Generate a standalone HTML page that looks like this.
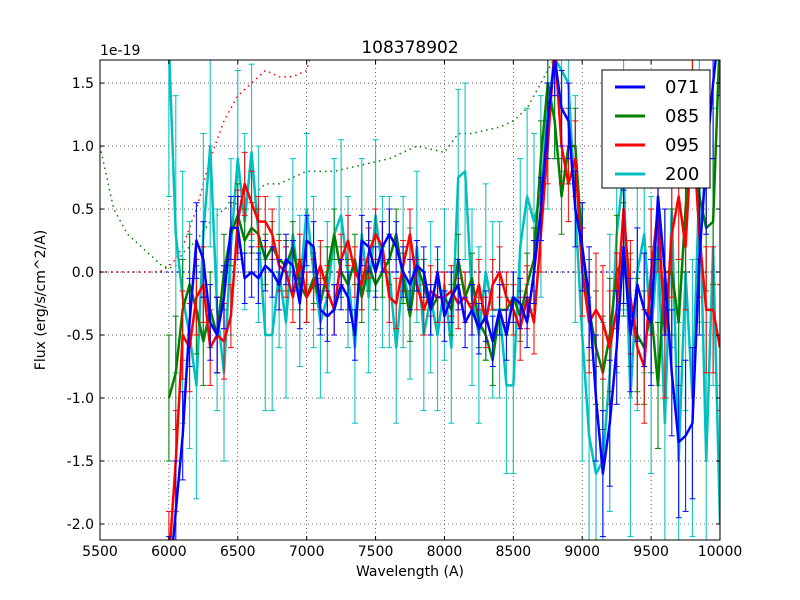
<!DOCTYPE html>
<html><head><meta charset="utf-8"><style>
html,body{margin:0;padding:0;background:#fff;width:800px;height:600px;overflow:hidden;}
svg{display:block;font-family:"DejaVu Sans","Liberation Sans",sans-serif;}
</style></head><body>
<svg id="chart" width="800" height="600" xmlns="http://www.w3.org/2000/svg">
<rect x="0" y="0" width="800" height="600" fill="#fff"/>
<defs><clipPath id="clip"><rect x="100" y="60" width="620" height="480"/></clipPath></defs>
<g id="grid"></g>
<g id="plot" clip-path="url(#clip)"></g>
<rect x="100" y="60" width="620" height="480" fill="none" stroke="#000" stroke-width="1"/>
<g id="ticks"></g>
<text x="410" y="53" font-size="17" text-anchor="middle">108378902</text>
<text x="100" y="55" font-size="14">1e-19</text>
<text x="410" y="576" font-size="14" text-anchor="middle">Wavelength (A)</text>
<text x="45" y="300" font-size="14" text-anchor="middle" transform="rotate(-90 45 300)">Flux (erg/s/cm^2/A)</text>
<g>
<rect x="602" y="70" width="108" height="118" fill="#fff" stroke="#000" stroke-width="1"/>
<g><line x1="615" y1="87" x2="645" y2="87" stroke="#0000ff" stroke-width="3"/><text x="665" y="93" font-size="18">071</text></g>
<g><line x1="615" y1="116" x2="645" y2="116" stroke="#008000" stroke-width="3"/><text x="665" y="122" font-size="18">085</text></g>
<g><line x1="615" y1="145" x2="645" y2="145" stroke="#ff0000" stroke-width="3"/><text x="665" y="151" font-size="18">095</text></g>
<g><line x1="615" y1="174" x2="645" y2="174" stroke="#00bfbf" stroke-width="3"/><text x="665" y="180" font-size="18">200</text></g>
</g>
</svg>
<script>
const xTicks=[5500,6000,6500,7000,7500,8000,8500,9000,9500,10000];
const yTicks=[-2.0,-1.5,-1.0,-0.5,0.0,0.5,1.0,1.5];
const wave=[6000,6050,6100,6150,6200,6250,6300,6350,6400,6450,6500,6550,6600,6650,6700,6750,6800,6850,6900,6950,7000,7050,7100,7150,7200,7250,7300,7350,7400,7450,7500,7550,7600,7650,7700,7750,7800,7850,7900,7950,8000,8050,8100,8150,8200,8250,8300,8350,8400,8450,8500,8550,8600,8650,8700,8750,8800,8850,8900,8950,9000,9050,9100,9150,9200,9250,9300,9350,9400,9450,9500,9550,9600,9650,9700,9750,9800,9850,9900,9950,10000];
const s071=[-2.5,-1.9,-1.3,-0.4,0.25,0.1,-0.4,-0.5,-0.2,0.35,0.35,-0.05,0.0,-0.05,0.05,0.0,-0.1,0.1,0.05,-0.25,0.25,0.2,-0.3,-0.35,-0.3,-0.1,-0.2,-0.5,0.25,0.2,0.0,0.2,0.3,0.2,0.0,-0.1,0.05,0.0,-0.3,0.0,-0.35,-0.2,-0.1,-0.4,-0.3,-0.45,-0.35,-0.55,-0.3,-0.5,-0.2,-0.25,-0.4,0.0,0.5,1.2,1.7,1.3,1.2,0.5,0.2,-0.2,-1.0,-1.6,-1.2,-0.6,0.2,-0.5,-0.1,-0.3,-0.4,0.6,0.0,-0.8,-1.35,-1.3,-1.2,0.1,0.9,1.5,2.0];
const s085=[-1.0,-0.8,-0.3,-0.1,-0.3,-0.55,-0.3,-0.5,0.0,0.3,0.45,0.25,0.35,0.3,0.1,0.2,0.1,0.05,0.2,-0.1,-0.2,-0.05,-0.25,0.0,0.3,0.0,-0.1,0.1,-0.2,0.05,-0.1,0.0,0.1,0.3,-0.05,-0.35,0.05,-0.1,-0.3,-0.2,-0.2,-0.3,0.1,-0.2,-0.05,-0.4,-0.5,-0.7,-0.3,-0.3,-0.2,-0.35,-0.1,0.1,0.9,1.5,1.2,0.6,1.0,1.0,0.2,-0.3,-0.6,-0.8,-0.5,0.0,0.1,-0.3,-0.5,-0.6,-0.3,-0.9,0.0,0.0,-0.4,0.5,1.2,0.6,0.35,0.4,1.9];
const s095=[-2.3,-1.5,-0.5,-0.6,-0.2,-0.1,-0.6,-0.5,-0.55,-0.35,0.4,0.7,0.55,0.4,0.4,0.3,0.05,0.0,-0.2,0.1,-0.2,-0.1,0.05,-0.15,-0.3,0.1,0.25,0.0,-0.1,0.15,0.3,0.2,-0.2,-0.25,0.05,0.3,-0.1,-0.3,-0.15,-0.2,-0.2,-0.15,-0.25,-0.2,-0.3,-0.1,-0.4,-0.1,0.0,-0.2,-0.3,-0.45,-0.2,-0.4,0.3,1.0,1.8,1.0,0.7,0.9,0.0,-0.4,-0.3,-0.4,-0.6,-0.3,0.5,-0.2,-0.6,-0.75,0.0,0.5,-0.5,0.3,0.6,0.2,1.2,0.3,-0.3,-0.3,-0.6];
const s200=[1.8,0.3,-0.2,-0.5,-0.9,0.3,1.0,-0.3,-0.8,0.2,0.9,0.4,0.95,0.3,-0.5,-0.5,0.0,-0.4,0.3,-0.15,0.5,0.0,-0.4,-0.2,0.3,0.45,0.0,-0.6,0.3,-0.2,0.45,0.0,0.0,-0.6,0.0,-0.25,0.2,-0.5,-0.2,-0.5,-0.1,-0.6,0.75,0.8,-0.2,-0.5,0.0,-0.3,-0.3,-0.9,-0.9,0.2,0.6,0.4,0.6,1.3,1.7,1.6,1.5,0.5,-0.5,-1.3,-1.6,-1.5,-0.8,0.3,0.8,-1.0,0.0,0.3,-0.5,0.2,-1.2,0.5,-1.5,0.0,-1.0,0.7,-1.5,0.2,-2.0];
const e071=[0.4,0.4,0.35,0.35,0.3,0.3,0.3,0.3,0.25,0.25,0.25,0.2,0.2,0.2,0.2,0.2,0.2,0.2,0.2,0.2,0.2,0.2,0.2,0.2,0.2,0.2,0.2,0.2,0.2,0.2,0.2,0.2,0.2,0.2,0.2,0.2,0.2,0.2,0.2,0.2,0.2,0.2,0.2,0.2,0.2,0.2,0.2,0.2,0.2,0.2,0.2,0.2,0.2,0.25,0.25,0.3,0.3,0.3,0.3,0.3,0.35,0.4,0.5,0.5,0.5,0.45,0.45,0.45,0.45,0.45,0.5,0.5,0.5,0.5,0.6,0.6,0.6,0.6,0.6,0.6,0.6];
const e085=[0.5,0.45,0.4,0.4,0.35,0.35,0.3,0.3,0.3,0.25,0.25,0.25,0.2,0.2,0.2,0.2,0.2,0.2,0.2,0.2,0.2,0.2,0.2,0.2,0.2,0.2,0.2,0.2,0.2,0.2,0.2,0.2,0.2,0.2,0.2,0.2,0.2,0.2,0.2,0.2,0.2,0.2,0.2,0.2,0.2,0.2,0.2,0.2,0.2,0.2,0.2,0.2,0.25,0.25,0.3,0.3,0.3,0.3,0.3,0.3,0.35,0.4,0.45,0.45,0.45,0.45,0.45,0.45,0.45,0.45,0.5,0.5,0.5,0.5,0.5,0.5,0.5,0.5,0.5,0.5,0.5];
const e095=[0.4,0.4,0.35,0.35,0.3,0.3,0.3,0.3,0.3,0.25,0.25,0.25,0.25,0.2,0.2,0.2,0.2,0.2,0.2,0.2,0.2,0.2,0.2,0.2,0.2,0.2,0.2,0.2,0.2,0.2,0.2,0.2,0.2,0.2,0.2,0.2,0.2,0.2,0.2,0.2,0.2,0.2,0.2,0.2,0.2,0.2,0.2,0.2,0.2,0.2,0.2,0.25,0.25,0.25,0.3,0.3,0.3,0.3,0.3,0.3,0.35,0.4,0.45,0.45,0.45,0.45,0.45,0.45,0.45,0.45,0.5,0.5,0.5,0.5,0.5,0.5,0.5,0.5,0.5,0.5,0.5];
const e200=[1.2,1.1,1.0,0.9,0.9,0.8,0.8,0.8,0.7,0.7,0.7,0.7,0.7,0.7,0.6,0.6,0.6,0.6,0.6,0.6,0.6,0.6,0.6,0.6,0.6,0.6,0.6,0.6,0.6,0.6,0.6,0.6,0.6,0.6,0.6,0.6,0.6,0.6,0.6,0.6,0.6,0.6,0.7,0.7,0.7,0.7,0.7,0.7,0.7,0.7,0.7,0.7,0.7,0.7,0.8,0.8,0.8,0.8,0.8,0.9,1.0,1.1,1.1,1.1,1.1,1.1,1.1,1.1,1.1,1.1,1.1,1.1,1.1,1.1,1.1,1.1,1.1,1.1,1.1,1.1,1.1];
const dotWave=[5500,5600,5700,5800,5900,5950,6000,6050,6100,6200,6300,6400,6500,6600,6700,6800,6900,7000,7200,7400,7600,7800,8000,8100,8200,8400,8500,8600,8700,8800];
const dotGreen=[1.0,0.5,0.3,0.2,0.1,0.05,0.03,0.05,0.15,0.25,0.4,0.5,0.55,0.6,0.7,0.7,0.75,0.8,0.8,0.85,0.9,1.0,0.95,1.1,1.1,1.15,1.2,1.3,1.5,1.7];
const dotRedWave=[5500,5900,5950,6000,6050,6100,6200,6300,6400,6500,6600,6700,6800,6900,7000,7050];
const dotRed=[0,0,0.01,0.05,0.1,0.2,0.5,0.9,1.2,1.4,1.5,1.6,1.55,1.55,1.6,1.8];
const NS="http://www.w3.org/2000/svg";
const X0=100,X1=720,Y0=540,Y1=60,XMIN=5500,XMAX=10000,YMIN=-2.127,YMAX=1.683;
function xs(v){return X0+(v-XMIN)/(XMAX-XMIN)*(X1-X0);}
function ys(v){return Y0-(v-YMIN)/(YMAX-YMIN)*(Y0-Y1);}
function mk(tag,attrs,parent){const e=document.createElementNS(NS,tag);for(const k in attrs)e.setAttribute(k,attrs[k]);parent.appendChild(e);return e;}
const grid=document.getElementById('grid'),ticks=document.getElementById('ticks'),plot=document.getElementById('plot');
xTicks.forEach(t=>{
 const x=xs(t);
 const g=mk('line',{x1:x,y1:Y1,x2:x,y2:Y0,stroke:'#000','stroke-width':0.6,'stroke-dasharray':'1,3'},grid);
 
 
 mk('line',{x1:x,y1:Y0,x2:x,y2:Y0-4,stroke:'#000'},ticks);
 mk('line',{x1:x,y1:Y1,x2:x,y2:Y1+4,stroke:'#000'},ticks);
 const tx=mk('text',{x:x,y:556,'font-size':14,'text-anchor':'middle'},ticks);
 tx.textContent=t;
 
 
});
yTicks.forEach(t=>{
 const y=ys(t);
 const g=mk('line',{x1:X0,y1:y,x2:X1,y2:y,stroke:'#000','stroke-width':0.6,'stroke-dasharray':'1,3'},grid);
 
 
 mk('line',{x1:X0,y1:y,x2:X0+4,y2:y,stroke:'#000'},ticks);
 mk('line',{x1:X1,y1:y,x2:X1-4,y2:y,stroke:'#000'},ticks);
 const tx=mk('text',{x:94,y:y+5,'font-size':14,'text-anchor':'end'},ticks);
 tx.textContent=t.toFixed(1);
 
 
});
function dotted(wv,vals,color,name){
 const p=mk('polyline',{points:wv.map((w,i)=>xs(w)+','+ys(vals[i])).join(' '),fill:'none',stroke:color,'stroke-width':1.5,'stroke-dasharray':'1.5,4'},plot);
 
 
}
dotted([5500,10000],[0,0],'#0000ff','dotted-071');
dotted(dotRedWave,dotRed,'#ff0000','dotted-095');
dotted(dotWave,dotGreen,'#008000','dotted-085');
function series(vals,errs,color,name){
 const g=mk('g',{},plot);
 
 
 wave.forEach((w,i)=>{
  const x=xs(w),a=ys(vals[i]+errs[i]),b=ys(vals[i]-errs[i]);
  mk('line',{x1:x,y1:a,x2:x,y2:b,stroke:color,'stroke-width':1.2,opacity:0.85},g);
  mk('line',{x1:x-3,y1:a,x2:x+3,y2:a,stroke:color,'stroke-width':1},g);
  mk('line',{x1:x-3,y1:b,x2:x+3,y2:b,stroke:color,'stroke-width':1},g);
 });
 mk('polyline',{points:wave.map((w,i)=>xs(w)+','+ys(vals[i])).join(' '),fill:'none',stroke:color,'stroke-width':2.5,'stroke-linejoin':'round'},g);
}
series(s200,e200,'#00bfbf','series-200');
series(s085,e085,'#008000','series-085');
series(s095,e095,'#ff0000','series-095');
series(s071,e071,'#0000ff','series-071');
</script>
</body></html>
